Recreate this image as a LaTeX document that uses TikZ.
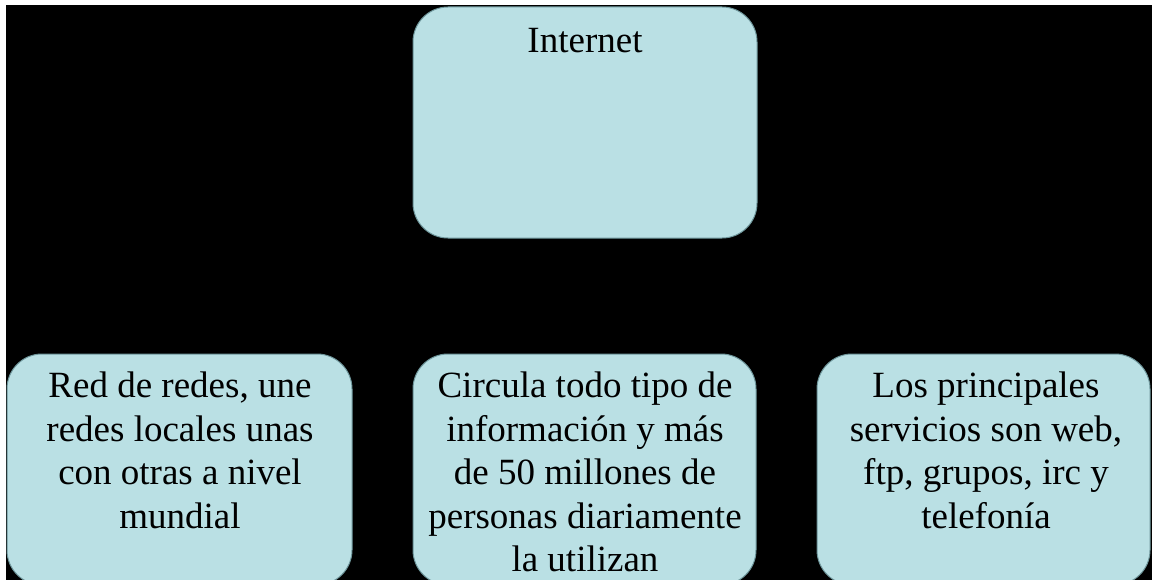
\documentclass[tikz,border=0pt]{standalone}
\usepackage{fontspec}
\setmainfont{Liberation Serif}
\definecolor{boxfill}{RGB}{186,224,228}
\definecolor{boxline}{RGB}{110,150,155}
\begin{document}
\begin{tikzpicture}[x=1pt,y=-1pt,
  card/.style={rectangle, rounded corners=35pt, fill=boxfill, draw=boxline, line width=1pt, inner sep=0pt, minimum height=231pt},
  cardtext/.style={anchor=north, inner sep=0pt, align=center, font=\fontsize{37}{43.5}\selectfont, text=black}]
\useasboundingbox (0,0) rectangle (1153,580);
\fill[white] (0,0) rectangle (1153,580);
\fill[black] (6,5) rectangle (1152,580);
\begin{scope}
\clip (6,5) rectangle (1152,580);
\node[card, minimum width=344pt] (top) at (585,122.5) {};
\node[card, minimum width=345pt] (left) at (179.5,469.5) {};
\node[card, minimum width=343pt] (mid) at (584.5,469.5) {};
\node[card, minimum width=333pt] (right) at (983.5,469.5) {};
\end{scope}
\node[cardtext] (ttop) at (585,28.5) {Internet};
\node[cardtext] (tleft) at (180,372) {Red de redes, une\\redes locales unas\\con otras a nivel\\mundial};
\node[cardtext] (tmid) at (585,372) {Circula todo tipo de\\información y más\\de 50 millones de\\personas diariamente\\la utilizan};
\node[cardtext] (tright) at (986,372) {Los principales\\servicios son web,\\ftp, grupos, irc y\\telefonía};
\end{tikzpicture}
\end{document}
